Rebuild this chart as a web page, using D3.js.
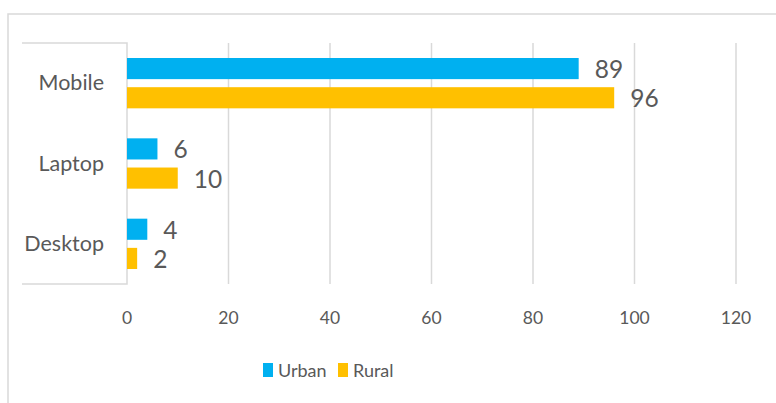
<!DOCTYPE html>
<html>
<head>
<meta charset="utf-8">
<script src="https://cdn.jsdelivr.net/npm/d3@7"></script>
<style>
  body { margin: 0; background: #fff; }
  text { font-family: Lato, "Open Sans", sans-serif; fill: #595959; }
</style>
</head>
<body>
<script>
(function () {

// data
var categories = ["Mobile", "Laptop", "Desktop"];
var seriesNames = ["Urban", "Rural"];
var urban = [89, 6, 4];
var rural = [96, 10, 2];
var xTicks = [0, 20, 40, 60, 80, 100, 120];

var colors = { Urban: "#00B0F0", Rural: "#FFC000" };

var width = 776;
var height = 403;

var svg = d3.select("body")
  .append("svg")
    .attr("width", width)
    .attr("height", height);

// outer chart border (only top and left visible)
svg.append("path")
  .attr("d", "M8," + height + "V14H" + width)
  .attr("fill", "none")
  .attr("stroke", "#d9d9d9")
  .attr("stroke-width", 1.5);

var plotTop = 43, plotBottom = 284;

var x = d3.scaleLinear()
  .domain([0, 120])
  .range([127, 736]);

var y = d3.scaleBand()
  .domain(categories)
  .range([plotTop, plotBottom]);

var ySub = d3.scaleBand()
  .domain(seriesNames)
  .range([15, y.bandwidth() - 15])
  .paddingInner(0.276);

// gridlines
svg.selectAll(".grid")
  .data(xTicks.slice(1))
  .enter()
  .append("line")
    .attr("class", "grid")
    .attr("x1", function(d){ return x(d); })
    .attr("x2", function(d){ return x(d); })
    .attr("y1", plotTop)
    .attr("y2", plotBottom)
    .attr("stroke", "#d9d9d9")
    .attr("stroke-width", 1.5);

// category axis box
svg.append("path")
  .attr("d", "M22," + plotTop + "H" + x(0) + "V" + plotBottom + "H22")
  .attr("fill", "none")
  .attr("stroke", "#d9d9d9")
  .attr("stroke-width", 1.5);

// tick labels
svg.selectAll(".tick")
  .data(xTicks)
  .enter()
  .append("text")
    .attr("class", "tick")
    .attr("x", function(d){ return x(d); })
    .attr("y", 324)
    .attr("text-anchor", "middle")
    .style("font-size", "17.5px")
    .text(function(d){ return d; });

// category labels
svg.selectAll(".cat")
  .data(categories)
  .enter()
  .append("text")
    .attr("class", "cat")
    .attr("x", 104)
    .attr("y", function(d){ return y(d) + y.bandwidth() / 2 + 7; })
    .attr("text-anchor", "end")
    .style("font-size", "21.5px")
    .text(function(d){ return d; });

var rows = [];
categories.forEach(function(c, i){
  rows.push({ cat: c, series: "Urban", value: urban[i] });
  rows.push({ cat: c, series: "Rural", value: rural[i] });
});

svg.selectAll(".bar")
  .data(rows)
  .enter()
  .append("rect")
    .attr("class", "bar")
    .attr("x", x(0))
    .attr("y", function(d){ return y(d.cat) + ySub(d.series); })
    .attr("width", function(d){ return x(d.value) - x(0); })
    .attr("height", ySub.bandwidth())
    .attr("fill", function(d){ return colors[d.series]; });

svg.selectAll(".val")
  .data(rows)
  .enter()
  .append("text")
    .attr("class", "val")
    .attr("x", function(d){ return x(d.value) + 16; })
    .attr("y", function(d){ return y(d.cat) + ySub(d.series) + ySub.bandwidth() / 2 + 9.5; })
    .style("font-size", "24.5px")
    .text(function(d){ return d.value; });

// legend
var legend = svg.selectAll(".legend")
  .data(seriesNames)
  .enter()
  .append("g")
    .attr("class", "legend")
    .attr("transform", function(d, i){ return "translate(" + (263 + i * 75) + ",363)"; });

legend.append("rect")
  .attr("width", 10)
  .attr("height", 14)
  .attr("fill", function(d){ return colors[d]; });

legend.append("text")
  .attr("x", 15)
  .attr("y", 14)
  .style("font-size", "18px")
  .text(function(d){ return d; });

}());
</script>
</body>
</html>
